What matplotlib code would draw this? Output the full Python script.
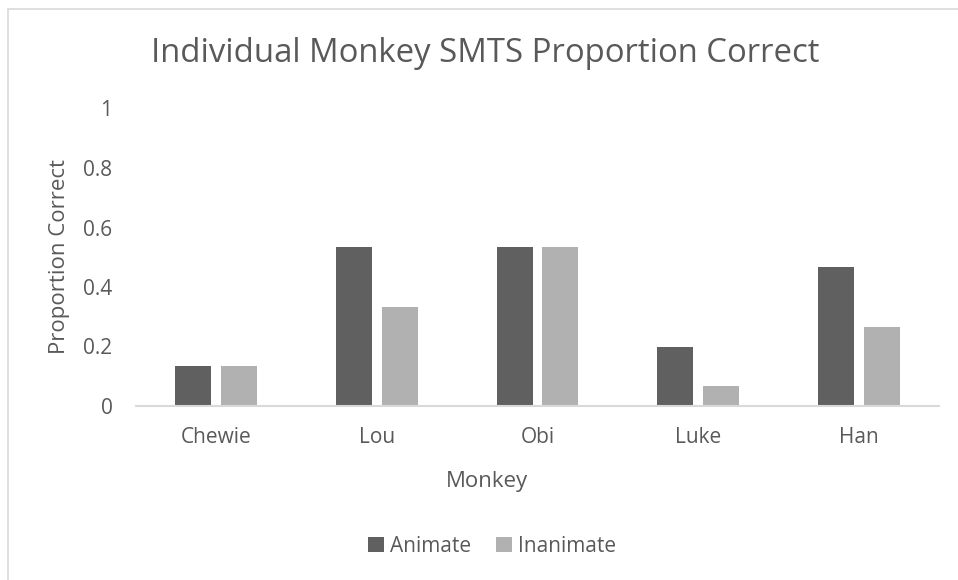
import numpy as np
import matplotlib.pyplot as plt
from matplotlib.patches import Rectangle

monkeys = ['Chewie', 'Lou', 'Obi', 'Luke', 'Han']
animate = [0.133, 0.533, 0.533, 0.2, 0.467]
inanimate = [0.133, 0.333, 0.533, 0.067, 0.267]
yticks = [0, 0.2, 0.4, 0.6, 0.8, 1]

plt.rcParams['font.family'] = ['Open Sans', 'DejaVu Sans']
txt = '#595959'

fig = plt.figure(figsize=(9.58, 5.8), dpi=100)
ax = fig.add_axes([136 / 958, 1 - 406 / 580, 803 / 958, (406 - 108.5) / 580])

# outer chart border (top and left visible)
fig.add_artist(Rectangle((8 / 958, -0.1), 1.2, 1 - 9.5 / 580 + 0.1,
                         transform=fig.transFigure, fill=False,
                         edgecolor='#d9d9d9', lw=1.2))

x = np.arange(len(monkeys))
w = 0.224
off = 0.143
ax.bar(x - off, animate, w, color='#606060', label='Animate')
ax.bar(x + off, inanimate, w, color='#b1b1b1', label='Inanimate')

ax.set_xlim(-0.5, len(monkeys) - 0.5)
ax.set_ylim(0, 1)
ax.set_yticks(yticks)
ax.set_yticklabels([f'{t:g}' for t in yticks])
ax.set_xticks(x)
ax.set_xticklabels(monkeys)
ax.tick_params(length=0, labelsize=15, colors=txt)
ax.tick_params(axis='y', pad=17)
ax.tick_params(axis='x', pad=15)
for s in ['top', 'right', 'left']:
    ax.spines[s].set_visible(False)
ax.spines['bottom'].set_color('#d9d9d9')
ax.spines['bottom'].set_linewidth(1.5)

fig.text(485 / 958, 1 - 54 / 580, 'Individual Monkey SMTS Proportion Correct',
         ha='center', va='center', fontsize=23.7, color=txt)
fig.text(487 / 958, 1 - 481 / 580, 'Monkey', ha='center', va='center',
         fontsize=16, color=txt)
fig.text(60 / 958, 1 - 257 / 580, 'Proportion Correct', ha='center', va='center',
         rotation=90, fontsize=16, color=txt)

fig.legend(loc='center', bbox_to_anchor=(492 / 958, 1 - 546 / 580), ncol=2,
           frameon=False, fontsize=15, labelcolor=txt, handlelength=0.75,
           handleheight=0.75, handletextpad=0.3, columnspacing=1.2)

fig.savefig('out.png', dpi=100, facecolor='white')
